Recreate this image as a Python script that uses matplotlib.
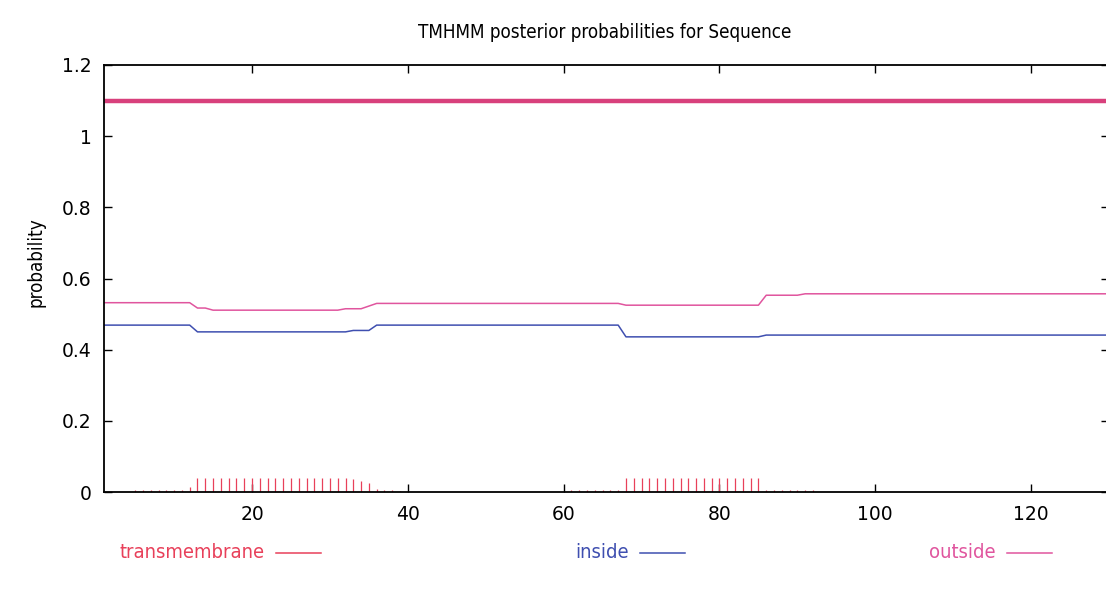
import numpy as np
import matplotlib
matplotlib.use("Agg")
import matplotlib.pyplot as plt
from matplotlib.lines import Line2D

plt.rcParams['font.family'] = ['DejaVu Sans']

# ---- data ----
seq_len = 130

# predicted topology (thick line at 1.1): whole sequence outside
pred_start = [1]
pred_end = [130]
pred_level = 1.1

# posterior probability of "outside" (breakpoints, residue -> prob)
outside_x = [1, 12, 13, 14, 15, 31, 32, 34, 36, 67, 68, 85, 86, 90, 91, 130]
outside_y = [0.532, 0.532, 0.517, 0.517, 0.511, 0.511, 0.515, 0.515, 0.530,
             0.530, 0.525, 0.525, 0.553, 0.553, 0.557, 0.557]

# posterior probability of "inside"
inside_x = [1, 12, 13, 32, 33, 35, 36, 67, 68, 85, 86, 130]
inside_y = [0.469, 0.469, 0.450, 0.450, 0.454, 0.454, 0.469, 0.469, 0.436,
            0.436, 0.441, 0.441]

# transmembrane posterior (impulses per residue)
tm_x = (list(range(5, 12)) + [12] + list(range(13, 33)) + [33, 34, 35]
        + [36, 37, 38, 39] + list(range(61, 68)) + list(range(68, 86))
        + list(range(86, 93)))
tm_y = ([0.006] * 7 + [0.014] + [0.040] * 20 + [0.036, 0.030, 0.024]
        + [0.008, 0.006, 0.005, 0.004] + [0.006] * 7 + [0.039] * 18
        + [0.006] * 7)

c_tm = '#e8405a'
c_in = '#3f4fb0'
c_out = '#e0559e'
c_pred = '#d8407c'

fig = plt.figure(figsize=(11.06, 5.94), dpi=100)
ax = fig.add_axes([104 / 1106, 1 - 492 / 594, (1109 - 104) / 1106, (492 - 65) / 594])

for s, e in zip(pred_start, pred_end):
    ax.plot([s, e], [pred_level, pred_level], color=c_pred, lw=3.2,
            solid_capstyle='butt')
ax.plot(outside_x, outside_y, color=c_out, lw=1.1)
ax.plot(inside_x, inside_y, color=c_in, lw=1.1)
ax.vlines(tm_x, 0, tm_y, color=c_tm, lw=0.9)

ax.set_xlim(1, seq_len)
ax.set_ylim(0, 1.2)
ax.set_xticks([20, 40, 60, 80, 100, 120])
ax.set_yticks([0, 0.2, 0.4, 0.6, 0.8, 1.0, 1.2])
ax.set_yticklabels(['0', '0.2', '0.4', '0.6', '0.8', '1', '1.2'])
ax.tick_params(direction='in', length=6, width=1, top=True, right=True,
               labelsize=13.5, pad=9)
for sp in ax.spines.values():
    sp.set_linewidth(1.3)

fig.text(36 / 1106, 1 - 262 / 594, 'probability', rotation=90, fontsize=13.5,
         ha='center', va='center', fontstretch='condensed')

fig.text(605 / 1106, 1 - 33 / 594, 'TMHMM posterior probabilities for Sequence',
         ha='center', va='center', fontsize=13.5, fontstretch='condensed')

# legend row below the axes
ly = 1 - 553 / 594
legend_items = [('transmembrane', c_tm, 120), ('inside', c_in, 575), ('outside', c_out, 929)]
for label, col, x0 in legend_items:
    t = fig.text(x0 / 1106, ly, label, color=col, fontsize=14.5, va='center',
                 ha='left', fontstretch='condensed')
    fig.canvas.draw()
    bb = t.get_window_extent()
    x1 = (bb.x1 + 11) / 1106
    fig.add_artist(Line2D([x1, x1 + 45 / 1106], [ly, ly], color=col, lw=1.1,
                          transform=fig.transFigure))

fig.savefig('out.png', dpi=100)
